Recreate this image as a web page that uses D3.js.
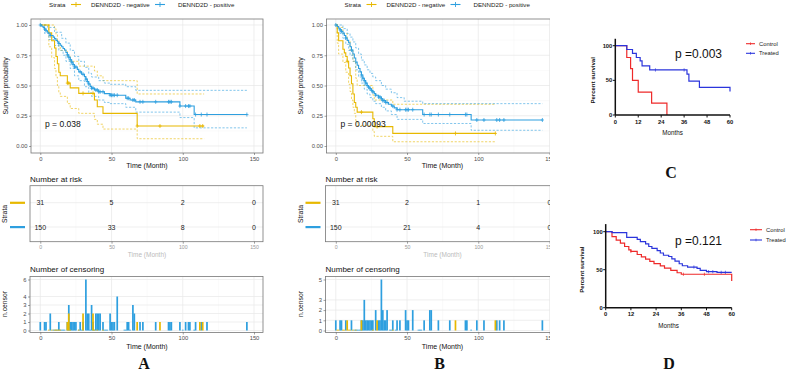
<!DOCTYPE html>
<html>
<head>
<meta charset="utf-8">
<script src="https://cdn.jsdelivr.net/npm/d3@7"></script>
<style>
  body { margin: 0; background: #fff; }
  svg { display: block; }
</style>
</head>
<body>
<svg id="chart" width="788" height="374"></svg>
<script>
const FONT = "'Liberation Sans', Arial, sans-serif";
const SERIF = "'Liberation Serif', 'Times New Roman', serif";
const NEG = '#E7B800', POS = '#2E9FDF';
const RED = '#ee2a2a', BLUE = '#2b35dc';

// ---- Panel A: KM steps [month, survival] ----
const aNegSurv = [[0, 1], [6, 0.935], [8, 0.87], [10, 0.81], [11, 0.74], [12, 0.68], [13, 0.61], [14, 0.58], [19, 0.52], [21, 0.48], [27, 0.435], [38, 0.38], [40, 0.325], [44, 0.27], [68, 0.165]];
const aNegUpper = [[0, 1], [8, 1], [10, 0.97], [11, 0.92], [12, 0.87], [13, 0.82], [14, 0.79], [19, 0.74], [21, 0.70], [27, 0.66], [38, 0.62], [40, 0.58], [44, 0.54], [68, 0.43]];
const aNegLower = [[0, 1], [6, 0.82], [8, 0.73], [10, 0.64], [11, 0.57], [12, 0.50], [13, 0.44], [14, 0.41], [19, 0.35], [21, 0.31], [27, 0.27], [38, 0.22], [40, 0.18], [44, 0.14], [68, 0.06]];
const aPosSurv = [[0, 1], [1, 0.99], [2, 0.98], [3, 0.967], [4, 0.953], [5, 0.94], [6, 0.927], [7, 0.913], [9, 0.9], [10, 0.887], [11, 0.873], [12, 0.86], [13, 0.847], [14, 0.833], [15, 0.82], [16, 0.806], [17, 0.793], [18, 0.773], [19, 0.753], [20, 0.733], [21, 0.713], [22, 0.693], [23, 0.673], [24, 0.653], [26, 0.633], [27, 0.613], [29, 0.593], [31, 0.573], [32, 0.553], [33, 0.533], [34, 0.513], [35, 0.493], [36, 0.478], [38, 0.463], [41, 0.448], [45, 0.433], [49, 0.42], [60, 0.395], [63, 0.38], [67, 0.365], [98, 0.33], [108, 0.26]];
const aPosUpper = [[0, 1], [5, 0.98], [10, 0.94], [15, 0.89], [18, 0.85], [21, 0.79], [24, 0.74], [27, 0.70], [31, 0.65], [34, 0.60], [36, 0.57], [41, 0.54], [45, 0.52], [49, 0.51], [60, 0.49], [67, 0.46]];
const aPosLower = [[0, 1], [3, 0.93], [6, 0.88], [10, 0.83], [13, 0.79], [16, 0.75], [18, 0.70], [21, 0.64], [24, 0.58], [27, 0.54], [31, 0.49], [34, 0.44], [36, 0.41], [41, 0.38], [45, 0.36], [49, 0.35], [60, 0.32], [67, 0.28], [98, 0.235], [108, 0.15]];
// number of censored subjects [month, n]
const aNegCensor = [[6, 0], [8, 0], [10, 0], [11, 0], [12, 0], [13, 0], [14, 0], [19, 1], [20, 2], [21, 0], [27, 0], [30, 2], [37, 2], [38, 0], [40, 0], [44, 0], [68, 1], [84, 1], [112, 1], [114, 1]];
const aPosCensor = [[0, 1], [3, 1], [4, 1], [7, 2], [9, 0], [10, 0], [11, 0], [12, 0], [13, 1], [14, 0], [15, 0], [16, 0], [17, 0], [19, 1], [20, 3], [21, 1], [22, 1], [23, 1], [24, 1], [25, 1], [27, 0], [28, 1], [29, 0], [30, 1], [32, 6], [33, 2], [34, 2], [35, 0], [36, 3], [37, 1], [38, 0], [39, 2], [40, 2], [41, 2], [42, 2], [44, 1], [45, 0], [46, 0], [47, 0], [49, 2], [50, 1], [51, 1], [52, 1], [54, 4], [59, 0], [60, 0], [61, 1], [62, 1], [63, 0], [65, 3], [66, 2], [70, 1], [72, 1], [81, 1], [90, 1], [91, 1], [92, 1], [98, 1], [100, 0], [102, 1], [104, 1], [105, 1], [108, 0], [109, 1], [113, 1], [117, 1], [145, 1]];
const aRiskNeg = [31, 5, 2, 0];
const aRiskPos = [150, 33, 8, 0];

// ---- Panel B ----
const bNegSurv = [[0, 1], [1, 0.935], [2, 0.87], [5, 0.80], [6, 0.77], [7, 0.74], [8, 0.70], [9, 0.645], [10, 0.58], [11, 0.515], [12, 0.43], [13, 0.36], [14, 0.32], [15, 0.28], [26, 0.225], [27, 0.16], [40, 0.104]];
const bNegUpper = [[0, 1], [2, 0.98], [5, 0.93], [8, 0.87], [10, 0.79], [12, 0.70], [14, 0.56], [15, 0.50], [26, 0.42], [27, 0.38], [40, 0.345]];
const bNegLower = [[0, 1], [1, 0.85], [2, 0.76], [5, 0.69], [7, 0.61], [9, 0.51], [10, 0.45], [11, 0.38], [12, 0.32], [13, 0.27], [14, 0.21], [15, 0.17], [26, 0.12], [27, 0.08], [40, 0.035]];
const bPosSurv = [[0, 1], [1, 0.987], [2, 0.973], [3, 0.96], [4, 0.947], [5, 0.933], [6, 0.913], [7, 0.893], [8, 0.873], [9, 0.853], [10, 0.82], [11, 0.793], [12, 0.76], [13, 0.727], [14, 0.693], [15, 0.667], [16, 0.64], [17, 0.613], [18, 0.587], [19, 0.56], [20, 0.54], [21, 0.52], [22, 0.50], [23, 0.487], [24, 0.473], [25, 0.46], [26, 0.447], [27, 0.433], [28, 0.42], [30, 0.405], [32, 0.39], [33, 0.375], [35, 0.36], [37, 0.345], [39, 0.33], [41, 0.315], [43, 0.30], [61, 0.26], [95, 0.215]];
const bPosUpper = [[0, 1], [3, 1], [5, 0.97], [8, 0.93], [10, 0.90], [12, 0.86], [14, 0.81], [16, 0.76], [18, 0.71], [20, 0.67], [22, 0.63], [24, 0.60], [26, 0.57], [28, 0.54], [32, 0.50], [35, 0.47], [39, 0.44], [43, 0.40], [48, 0.37], [61, 0.35]];
const bPosLower = [[0, 1], [1, 0.97], [3, 0.93], [5, 0.89], [7, 0.84], [9, 0.79], [10, 0.75], [12, 0.70], [14, 0.63], [16, 0.57], [18, 0.52], [20, 0.47], [22, 0.43], [24, 0.40], [26, 0.37], [28, 0.35], [32, 0.32], [35, 0.29], [39, 0.26], [43, 0.22], [61, 0.186], [95, 0.13]];
const bNegCensor = [[1, 0], [2, 0], [5, 0], [6, 0], [8, 1], [9, 0], [10, 0], [12, 0], [14, 0], [18, 1], [26, 0], [29, 1], [40, 0], [84, 1], [112, 1]];
const bPosCensor = [[0, 1], [3, 1], [4, 1], [7, 1], [11, 1], [13, 0], [14, 0], [15, 0], [16, 0], [17, 0], [18, 1], [19, 1], [20, 3], [21, 1], [22, 1], [23, 1], [24, 1], [25, 1], [26, 1], [28, 2], [30, 1], [31, 1], [32, 5], [33, 2], [34, 1], [35, 1], [36, 2], [38, 0], [39, 0], [40, 1], [42, 0], [43, 1], [45, 1], [49, 2], [50, 1], [51, 1], [54, 2], [58, 0], [59, 0], [60, 0], [62, 1], [66, 2], [67, 2], [72, 1], [80, 1], [91, 1], [92, 1], [95, 0], [99, 1], [104, 1], [113, 1], [115, 1], [118, 1], [145, 1]];
const bRiskNeg = [31, 2, 1, 0];
const bRiskPos = [150, 21, 4, 0];

const riskTimes = [0, 50, 100, 150];
const monthTicks = [0, 50, 100, 150];
const survTicks = [0, 0.25, 0.5, 0.75, 1];

// ---- Panels C and D: percent survival steps [month, %] ----
const cControl = [[0, 100], [6, 83], [8, 67], [9, 50], [12, 33], [19, 17], [27, 0]];
const cTreated = [[0, 100], [6, 94.5], [9, 89], [11, 83], [13, 78], [14, 71], [18, 65], [37.5, 59], [38.5, 49], [44, 40], [60, 34]];
const cTreatedCens = [21, 36];
const dControl = [[0, 100], [3, 93.5], [5, 89], [7, 85], [9, 80.5], [11, 76], [12, 74], [15, 70], [17, 67], [19, 64], [21, 61], [23, 58], [26, 55], [28, 52], [31, 49], [34, 46], [36, 44], [60, 35]];
const dTreated = [[0, 100], [3, 98.7], [10, 92.6], [15, 90], [16.5, 87], [19, 84], [20.5, 80.5], [22, 78], [24.5, 75], [26, 72], [27.5, 69], [30, 67.4], [31.5, 64.3], [33, 61.3], [35, 57.8], [36.5, 55.2], [39, 53.5], [43.5, 51.7], [45, 49.1], [48, 47.4], [53, 46.5]];
const dControlCens = [12, 37, 47];
const dTreatedCens = [42, 49, 51, 55, 57];
const gpMonthTicks = [0, 12, 24, 36, 48, 60];
const gpPctTicks = [0, 50, 100];

const svg = d3.select('#chart').attr('font-family', FONT);

function survAt(steps, t) {
  let s = steps[0][1];
  steps.forEach(d => { if (d[0] <= t) s = d[1]; });
  return s;
}

function styleAxis(a, size, color) {
  a.attr('font-family', FONT).attr('font-size', size);
  a.select('.domain').remove();
  a.selectAll('line').attr('stroke', '#444').attr('stroke-width', 0.5);
  a.selectAll('text').attr('fill', color);
}

function panelBg(g, L, R, T, B, x, xMinor, yVals, yMinorVals, y) {
  g.append('rect').attr('x', L).attr('y', T).attr('width', R - L).attr('height', B - T).attr('fill', '#fff');
  const grid = g.append('g');
  xMinor.forEach(v => grid.append('line').attr('x1', x(v)).attr('x2', x(v)).attr('y1', T).attr('y2', B).attr('stroke', '#f4f4f4').attr('stroke-width', 0.5));
  yMinorVals.forEach(v => grid.append('line').attr('x1', L).attr('x2', R).attr('y1', y(v)).attr('y2', y(v)).attr('stroke', '#f4f4f4').attr('stroke-width', 0.5));
  monthTicks.forEach(v => grid.append('line').attr('x1', x(v)).attr('x2', x(v)).attr('y1', T).attr('y2', B).attr('stroke', '#e6e6e6').attr('stroke-width', 0.7));
  yVals.forEach(v => grid.append('line').attr('x1', L).attr('x2', R).attr('y1', y(v)).attr('y2', y(v)).attr('stroke', '#e6e6e6').attr('stroke-width', 0.7));
}

function border(g, L, R, T, B) {
  g.append('rect').attr('x', L).attr('y', T).attr('width', R - L).attr('height', B - T)
    .attr('fill', 'none').attr('stroke', '#777').attr('stroke-width', 0.8);
}

function kmPanel(o) {
  const g = svg.append('g');
  if (o.clipW) {
    svg.append('clipPath').attr('id', 'clip' + o.letter)
      .append('rect').attr('x', 0).attr('y', 0).attr('width', o.clipW).attr('height', 374);
    g.attr('clip-path', `url(#clip${o.letter})`);
  }
  const dx = o.dx;
  const L = dx + 31, R = dx + 263, T = 19, B = 153;
  const x = d3.scaleLinear().domain([0, 150]).range([dx + 40.3, dx + 254]);
  const y = d3.scaleLinear().domain([0, 1]).range([146, 25]);

  // legend
  const lg = g.append('g').attr('font-size', 6.2).attr('fill', '#222');
  lg.append('text').attr('x', dx + 49).attr('y', 6.7).text('Strata');
  [[NEG, 'DENND2D - negative', 76, 91], [POS, 'DENND2D - positive', 160, 178]].forEach(([c, label, kx, tx]) => {
    lg.append('line').attr('x1', dx + kx - 5).attr('x2', dx + kx + 5).attr('y1', 4.5).attr('y2', 4.5).attr('stroke', c).attr('stroke-width', 1.1);
    lg.append('path').attr('d', `M${dx + kx},${2}v5`).attr('stroke', c).attr('stroke-width', 0.9);
    lg.append('text').attr('x', dx + tx).attr('y', 6.7).text(label);
  });

  // main survival plot
  panelBg(g, L, R, T, B, x, [25, 75, 125], survTicks, [0.125, 0.375, 0.625, 0.875], y);

  const step = d3.line().curve(d3.curveStepAfter).x(d => x(d[0])).y(d => y(d[1]));
  const withEnd = (arr, end) => arr.concat([[end, arr[arr.length - 1][1]]]);
  const groups = [
    { color: NEG, surv: o.negSurv, up: o.negUp, lo: o.negLo, end: o.negEnd, cens: o.negCens },
    { color: POS, surv: o.posSurv, up: o.posUp, lo: o.posLo, end: o.posEnd, cens: o.posCens }
  ];
  groups.forEach(s => {
    [s.up, s.lo].forEach(ci => {
      g.append('path').attr('d', step(withEnd(ci, s.end))).attr('fill', 'none')
        .attr('stroke', s.color).attr('stroke-width', 0.7).attr('stroke-dasharray', '2.2,1.6').attr('opacity', 0.85);
    });
  });
  groups.forEach(s => {
    g.append('path').attr('d', step(withEnd(s.surv, s.end))).attr('fill', 'none')
      .attr('stroke', s.color).attr('stroke-width', 1.1);
    s.cens.filter(d => d[1] > 0).forEach(d => {
      const px = x(d[0]), py = y(survAt(s.surv, d[0]));
      g.append('path').attr('d', `M${px - 1.6},${py}h3.2M${px},${py - 2}v4`)
        .attr('stroke', s.color).attr('stroke-width', 0.8);
    });
  });
  border(g, L, R, T, B);

  g.append('text').attr('x', dx + 45).attr('y', 126.5).attr('font-size', 8.5).attr('fill', '#111').text(o.pText);

  g.append('g').attr('transform', `translate(${L},0)`)
    .call(d3.axisLeft(y).tickValues(survTicks).tickFormat(d3.format('.2f')).tickSize(2).tickPadding(1.5))
    .call(a => styleAxis(a, 5.8, '#4d4d4d'));
  g.append('g').attr('transform', `translate(0,${B})`)
    .call(d3.axisBottom(x).tickValues(monthTicks).tickSize(2).tickPadding(1.5))
    .call(a => styleAxis(a, 5.8, '#4d4d4d'));
  g.append('text').attr('x', (L + R) / 2).attr('y', 167.5).attr('text-anchor', 'middle').attr('font-size', 7).attr('fill', '#111').text('Time (Month)');
  g.append('text').attr('transform', `translate(${dx + 7.5},86) rotate(-90)`).attr('text-anchor', 'middle').attr('font-size', 6.8).attr('fill', '#111').text('Survival probability');

  // number at risk table
  const rT = 185.7, rB = 241.7;
  const rowY = [202.7, 227];
  g.append('text').attr('x', dx + 30).attr('y', 182).attr('font-size', 8).attr('fill', '#111').text('Number at risk');
  g.append('rect').attr('x', dx + 30).attr('y', rT).attr('width', R - dx - 30).attr('height', rB - rT).attr('fill', '#fff');
  [25, 75, 125].forEach(v => g.append('line').attr('x1', x(v)).attr('x2', x(v)).attr('y1', rT).attr('y2', rB).attr('stroke', '#f4f4f4').attr('stroke-width', 0.5));
  monthTicks.forEach(v => g.append('line').attr('x1', x(v)).attr('x2', x(v)).attr('y1', rT).attr('y2', rB).attr('stroke', '#e8e8e8').attr('stroke-width', 0.7));
  rowY.forEach(v => g.append('line').attr('x1', dx + 30).attr('x2', R).attr('y1', v).attr('y2', v).attr('stroke', '#e8e8e8').attr('stroke-width', 0.7));
  [[o.riskNeg, rowY[0], NEG], [o.riskPos, rowY[1], POS]].forEach(([vals, ry, c]) => {
    vals.forEach((v, i) => {
      g.append('text').attr('x', x(riskTimes[i])).attr('y', ry + 2.5).attr('text-anchor', 'middle')
        .attr('font-size', 7).attr('fill', '#222').text(v);
    });
    g.append('rect').attr('x', dx + 10).attr('y', ry - 1).attr('width', 15).attr('height', 2.2).attr('fill', c);
  });
  border(g, dx + 30, R, rT, rB);
  g.append('text').attr('transform', `translate(${dx + 7},214) rotate(-90)`).attr('text-anchor', 'middle').attr('font-size', 6.8).attr('fill', '#111').text('Strata');
  g.append('g').attr('transform', `translate(0,${rB})`)
    .call(d3.axisBottom(x).tickValues(monthTicks).tickSize(2).tickPadding(1.5))
    .call(a => styleAxis(a, 5.2, '#999'));
  g.append('text').attr('x', (L + R) / 2).attr('y', 257).attr('text-anchor', 'middle').attr('font-size', 6.5).attr('fill', '#bbb').text('Time (Month)');

  // number of censoring
  const cT = 276.5, cB = 332.5;
  const yc = d3.scaleLinear().domain([0, o.censMax]).range([330.5, 279.5]);
  g.append('text').attr('x', dx + 30).attr('y', 272).attr('font-size', 8).attr('fill', '#111').text('Number of censoring');
  g.append('rect').attr('x', dx + 30).attr('y', cT).attr('width', R - dx - 30).attr('height', cB - cT).attr('fill', '#fff');
  [25, 75, 125].forEach(v => g.append('line').attr('x1', x(v)).attr('x2', x(v)).attr('y1', cT).attr('y2', cB).attr('stroke', '#f4f4f4').attr('stroke-width', 0.5));
  monthTicks.forEach(v => g.append('line').attr('x1', x(v)).attr('x2', x(v)).attr('y1', cT).attr('y2', cB).attr('stroke', '#e8e8e8').attr('stroke-width', 0.7));
  o.censTicks.forEach(v => g.append('line').attr('x1', dx + 30).attr('x2', R).attr('y1', yc(v)).attr('y2', yc(v)).attr('stroke', '#e8e8e8').attr('stroke-width', 0.7));
  [[o.posCens, POS], [o.negCens, NEG]].forEach(([arr, c]) => {
    g.append('g').selectAll('rect').data(arr).join('rect')
      .attr('x', d => x(d[0]) - 0.85).attr('width', 1.7)
      .attr('y', d => d[1] > 0 ? yc(d[1]) : yc(0) - 0.8)
      .attr('height', d => d[1] > 0 ? yc(0) - yc(d[1]) : 0.8)
      .attr('fill', c);
  });
  border(g, dx + 30, R, cT, cB);
  g.append('g').attr('transform', `translate(${dx + 30},0)`)
    .call(d3.axisLeft(yc).tickValues(o.censTicks).tickFormat(d3.format('d')).tickSize(2).tickPadding(1.5))
    .call(a => styleAxis(a, 5.8, '#4d4d4d'));
  g.append('g').attr('transform', `translate(0,${cB})`)
    .call(d3.axisBottom(x).tickValues(monthTicks).tickSize(2).tickPadding(1.5))
    .call(a => styleAxis(a, 5.8, '#4d4d4d'));
  g.append('text').attr('x', (L + R) / 2).attr('y', 348.5).attr('text-anchor', 'middle').attr('font-size', 7).attr('fill', '#111').text('Time (Month)');
  g.append('text').attr('transform', `translate(${dx + 7},304) rotate(-90)`).attr('text-anchor', 'middle').attr('font-size', 6.8).attr('fill', '#111').text('n.censor');

  g.append('text').attr('x', dx + 144).attr('y', 369).attr('text-anchor', 'middle')
    .attr('font-family', SERIF).attr('font-weight', 'bold').attr('font-size', 16).attr('fill', '#111').text(o.letter);
}

kmPanel({
  dx: 0, letter: 'A', pText: 'p = 0.038',
  negSurv: aNegSurv, negUp: aNegUpper, negLo: aNegLower, negEnd: 115, negCens: aNegCensor,
  posSurv: aPosSurv, posUp: aPosUpper, posLo: aPosLower, posEnd: 145, posCens: aPosCensor,
  riskNeg: aRiskNeg, riskPos: aRiskPos, censMax: 6, censTicks: [0, 1, 2, 3, 4, 6]
});
kmPanel({
  dx: 295.5, letter: 'B', pText: 'p = 0.00093', clipW: 550,
  negSurv: bNegSurv, negUp: bNegUpper, negLo: bNegLower, negEnd: 112, negCens: bNegCensor,
  posSurv: bPosSurv, posUp: bPosUpper, posLo: bPosLower, posEnd: 145, posCens: bPosCensor,
  riskNeg: bRiskNeg, riskPos: bRiskPos, censMax: 5, censTicks: [0, 1, 2, 3, 5]
});

// GraphPad-style panels
function gpPanel(o) {
  const g = svg.append('g');
  const x = d3.scaleLinear().domain([0, 60]).range([o.x0, o.x60]);
  const y = d3.scaleLinear().domain([0, 100]).range([o.y0, o.y100]);
  const step = d3.line().curve(d3.curveStepAfter).x(d => x(d[0])).y(d => y(d[1]));
  const withEnd = (arr, end) => arr.concat([[end, arr[arr.length - 1][1]]]);

  [[o.ctrl, o.ctrlEnd, RED, o.ctrlCens], [o.trt, o.trtEnd, BLUE, o.trtCens]].forEach(([arr, end, c, cens]) => {
    g.append('path').attr('d', step(withEnd(arr, end))).attr('fill', 'none').attr('stroke', c).attr('stroke-width', 1.2);
    cens.forEach(t => {
      const px = x(t), py = y(survAt(arr, t));
      g.append('path').attr('d', `M${px},${py - 1.6}v3.2`).attr('stroke', c).attr('stroke-width', 0.7);
    });
  });

  // axes
  g.append('line').attr('x1', o.x0).attr('x2', o.x0).attr('y1', o.y0).attr('y2', y(110)).attr('stroke', '#111').attr('stroke-width', 1.5);
  g.append('line').attr('x1', o.x0).attr('x2', o.x60).attr('y1', o.y0).attr('y2', o.y0).attr('stroke', '#111').attr('stroke-width', 1.5);
  gpMonthTicks.forEach(t => {
    g.append('line').attr('x1', x(t)).attr('x2', x(t)).attr('y1', o.y0).attr('y2', o.y0 + 2.5).attr('stroke', '#111').attr('stroke-width', 1);
    g.append('text').attr('x', x(t)).attr('y', o.y0 + 8.6).attr('text-anchor', 'middle').attr('font-size', 5.8).attr('font-weight', 'bold').attr('fill', '#111').text(t);
  });
  gpPctTicks.forEach(v => {
    g.append('line').attr('x1', o.x0 - 2.5).attr('x2', o.x0).attr('y1', y(v)).attr('y2', y(v)).attr('stroke', '#111').attr('stroke-width', 1);
    g.append('text').attr('x', o.x0 - 3).attr('y', y(v) + 2).attr('text-anchor', 'end').attr('font-size', 5.8).attr('font-weight', 'bold').attr('fill', '#111').text(v);
  });
  g.append('text').attr('x', (o.x0 + o.x60) / 2).attr('y', o.y0 + 20).attr('text-anchor', 'middle').attr('font-size', 6.3).attr('fill', '#111').text('Months');
  g.append('text').attr('transform', `translate(${o.titleX},${(o.y0 + o.y100) / 2}) rotate(-90)`).attr('text-anchor', 'middle')
    .attr('font-size', 6).attr('font-weight', 'bold').attr('fill', '#111').text('Percent survival');

  g.append('text').attr('x', o.pX).attr('y', o.pY).attr('font-size', 12).attr('fill', '#111').text(o.pText);

  [['Control', RED, 0], ['Treated', BLUE, 1]].forEach(([label, c, i]) => {
    const ly = o.legY + i * o.legGap;
    g.append('line').attr('x1', o.legX).attr('x2', o.legX + o.legW).attr('y1', ly).attr('y2', ly).attr('stroke', c).attr('stroke-width', 1.1);
    g.append('path').attr('d', `M${o.legX + o.legW / 2},${ly - 1.3}v2.6`).attr('stroke', c).attr('stroke-width', 0.7);
    g.append('text').attr('x', o.legX + o.legW + 4).attr('y', ly + 2).attr('font-size', 5.8).attr('fill', '#222').text(label);
  });

  g.append('text').attr('x', o.letterX).attr('y', o.letterY).attr('text-anchor', 'middle')
    .attr('font-family', SERIF).attr('font-weight', 'bold').attr('font-size', 16).attr('fill', '#111').text(o.letter);
}

gpPanel({
  letter: 'C', x0: 615.3, x60: 730, y0: 115, y100: 45.7, titleX: 595,
  ctrl: cControl, ctrlEnd: 27, ctrlCens: [], trt: cTreated, trtEnd: 60, trtCens: cTreatedCens,
  pText: 'p =0.003', pX: 675, pY: 57.5,
  legX: 746, legW: 9, legY: 43.7, legGap: 9.6, letterX: 671, letterY: 178
});
gpPanel({
  letter: 'D', x0: 605.7, x60: 731.7, y0: 307.7, y100: 231.7, titleX: 584,
  ctrl: dControl, ctrlEnd: 60, ctrlCens: dControlCens, trt: dTreated, trtEnd: 60, trtCens: dTreatedCens,
  pText: 'p =0.121', pX: 675, pY: 244.5,
  legX: 750, legW: 12, legY: 229.7, legGap: 10.3, letterX: 669, letterY: 369
});
</script>
</body>
</html>
